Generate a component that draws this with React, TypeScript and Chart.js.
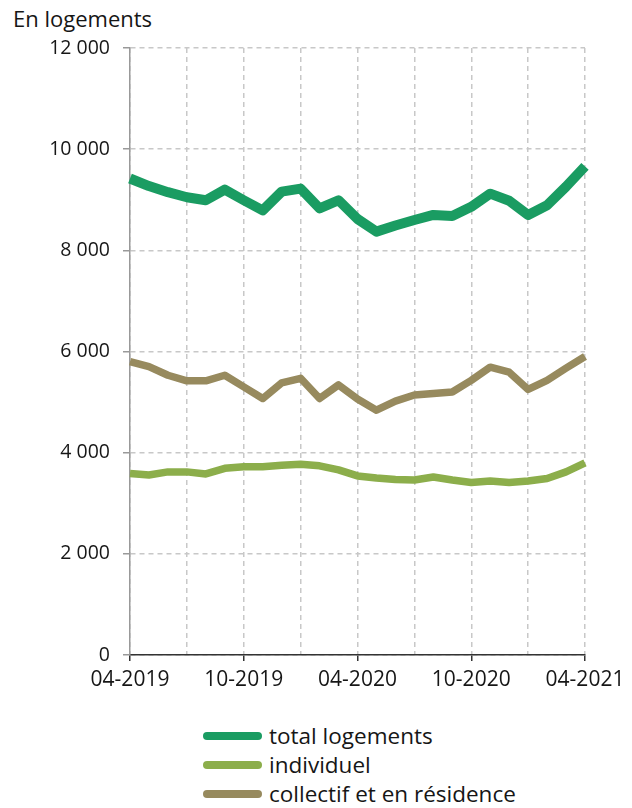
import React, { useEffect, useRef } from "react";
import { Chart, registerables } from "chart.js";

Chart.register(...registerables);

const months = [
  "04-2019", "05-2019", "06-2019", "07-2019", "08-2019", "09-2019",
  "10-2019", "11-2019", "12-2019", "01-2020", "02-2020", "03-2020",
  "04-2020", "05-2020", "06-2020", "07-2020", "08-2020", "09-2020",
  "10-2020", "11-2020", "12-2020", "01-2021", "02-2021", "03-2021",
  "04-2021",
];

const totalLogements = [
  9420, 9270, 9150, 9050, 8990, 9200, 8990, 8790, 9160, 9220, 8830, 8990,
  8620, 8370, 8490, 8600, 8700, 8680, 8860, 9120, 8980, 8700, 8890, 9260,
  9660,
];

const individuel = [
  3590, 3560, 3620, 3620, 3580, 3690, 3720, 3720, 3750, 3770, 3740, 3660,
  3540, 3500, 3470, 3460, 3520, 3460, 3410, 3440, 3410, 3440, 3490, 3620,
  3800,
];

const collectif = [
  5800, 5700, 5530, 5420, 5420, 5530, 5300, 5070, 5380, 5470, 5070, 5340,
  5060, 4840, 5020, 5140, 5170, 5200, 5430, 5690, 5590, 5250, 5430, 5670,
  5900,
];

const yTicks = [0, 2000, 4000, 6000, 8000, 10000, 12000];
const xLabelEvery = 6;
const xGridEvery = 3;

const seriesNames = ["total logements", "individuel", "collectif et en résidence"];
const seriesColors = ["#1a9c62", "#8cae4b", "#978a5e"];
const seriesWidths = [10, 7.5, 7.5];

const FONT = "'Open Sans', 'Noto Sans', sans-serif";

function fmt(v: number): string {
  return String(v).replace(/\B(?=(\d{3})+(?!\d))/g, " ");
}

export default function App() {
  const ref = useRef<HTMLCanvasElement | null>(null);

  useEffect(() => {
    if (!ref.current) return;
    const series = [totalLogements, individuel, collectif];
    const chart = new Chart(ref.current, {
      type: "line",
      data: {
        labels: months,
        datasets: series.map((data, i) => ({
          label: seriesNames[i],
          data,
          borderColor: seriesColors[i],
          backgroundColor: seriesColors[i],
          borderWidth: seriesWidths[i],
          pointRadius: 0,
          tension: 0,
          borderJoinStyle: "round" as const,
        })),
      },
      options: {
        animation: false,
        responsive: false,
        maintainAspectRatio: false,
        layout: { padding: { top: 48, right: 47, bottom: 0, left: 0 } },
        plugins: {
          legend: { display: false },
          tooltip: { enabled: false },
        },
        scales: {
          x: {
            type: "category",
            offset: false,
            afterFit: (scale: any) => {
              scale.height = 45;
            },
            grid: {
              color: (ctx: any) => (ctx.index % xGridEvery === 0 ? "#c8c8c8" : "rgba(0,0,0,0)"),
              tickColor: (ctx: any) => (ctx.index % xLabelEvery === 0 ? "#333333" : "rgba(0,0,0,0)"),
              tickLength: 6,
              lineWidth: 1.5,
            },
            border: { color: "#333333", width: 1.5, dash: [5, 4] },
            ticks: {
              autoSkip: false,
              maxRotation: 0,
              minRotation: 0,
              padding: 6,
              color: "#161616",
              font: { family: FONT, size: 21 },
              callback: (_v: any, i: number) => (i % xLabelEvery === 0 ? months[i] : ""),
            },
          },
          y: {
            min: yTicks[0],
            max: yTicks[yTicks.length - 1],
            afterFit: (scale: any) => {
              scale.width = 130;
            },
            afterBuildTicks: (scale: any) => {
              scale.ticks = yTicks.map((v) => ({ value: v }));
            },
            grid: {
              color: "#c8c8c8",
              tickColor: "#999999",
              tickLength: 7,
              lineWidth: 1.5,
            },
            border: { color: "#999999", width: 1.5, dash: [5, 4] },
            ticks: {
              padding: 13,
              color: "#161616",
              font: { family: FONT, size: 19.5 },
              callback: (v: any) => fmt(Number(v)),
            },
          },
        },
      },
    });
    return () => chart.destroy();
  }, []);

  return (
    <div
      style={{
        position: "absolute",
        left: 0,
        top: 0,
        width: 632,
        height: 808,
        background: "#ffffff",
        fontFamily: FONT,
        color: "#161616",
        overflow: "hidden",
      }}
    >
      <div
        style={{
          position: "absolute",
          left: 13,
          top: 7,
          fontSize: 22,
          lineHeight: 1,
          whiteSpace: "nowrap",
        }}
      >
        En logements
      </div>
      <canvas
        ref={ref}
        width={632}
        height={700}
        style={{ position: "absolute", left: 0, top: 0, width: 632, height: 700 }}
      />
      {seriesNames.map((name, i) => (
        <div
          key={name}
          style={{
            position: "absolute",
            left: 203,
            top: 736 + i * 29 - 14,
            height: 28,
            display: "flex",
            alignItems: "center",
            whiteSpace: "nowrap",
          }}
        >
          <div
            style={{
              width: 59,
              height: 8,
              borderRadius: 4,
              background: seriesColors[i],
              marginRight: 7,
            }}
          />
          <span style={{ fontSize: 22.5, lineHeight: 1 }}>{name}</span>
        </div>
      ))}
    </div>
  );
}
